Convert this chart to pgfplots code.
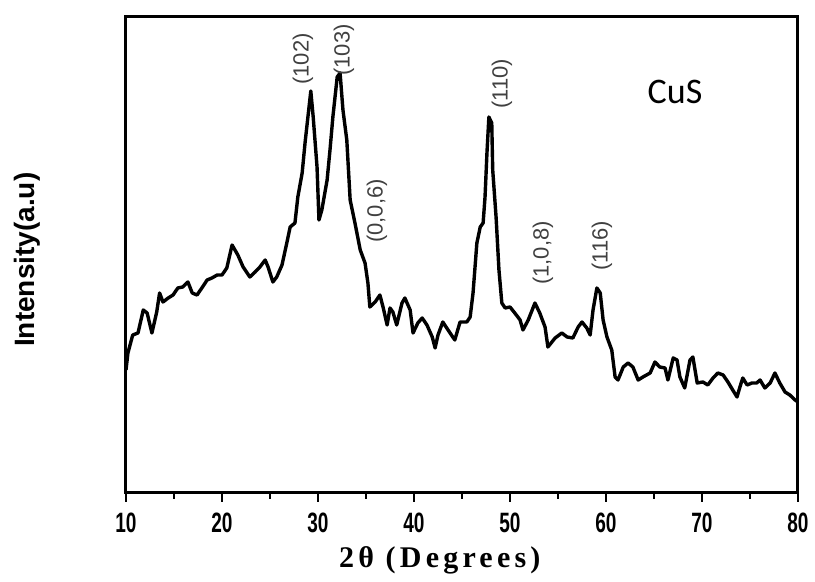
\documentclass[border=0pt]{standalone}
\usepackage{fontspec}
\setmainfont{Liberation Sans}
\newfontfamily\tickfont[FakeStretch=0.68]{Liberation Sans}
\newfontfamily\xlabfont[LetterSpace=14]{Liberation Serif}
\newfontfamily\cusfont{Carlito}
\usepackage{pgfplots}
\pgfplotsset{compat=1.18}

% XRD pattern of CuS (y in arbitrary units)
\pgfplotstableread{
x y
10.0 123
10.2 140
10.7 158
11.25 160
11.8 183
12.2 180
12.7 160
13.2 181
13.5 200
13.85 191
14.4 195
14.9 198
15.4 205
15.9 206
16.45 211
16.9 200
17.4 198
17.9 205
18.45 213
18.95 215
19.5 218
20.0 218
20.5 225
21.05 248
21.35 243
21.65 238
22.2 226
22.9 216
23.45 221
23.95 226
24.5 233
24.8 226
25.3 211
25.7 216
26.25 228
26.75 250
27.1 266
27.6 270
27.9 296
28.35 320
28.65 350
28.95 376
29.25 402
29.5 376
29.9 326
30.1 273
30.4 283
30.95 313
31.25 343
31.55 376
32.0 416
32.3 420
32.6 383
33.0 353
33.35 293
33.85 270
34.4 243
34.9 230
35.2 210
35.4 186
35.95 191
36.45 198
36.8 185
37.2 168
37.5 185
37.8 181
38.2 168
38.75 190
39.05 195
39.6 183
39.9 160
40.4 170
40.85 175
41.35 168
41.9 156
42.2 145
42.5 158
43.0 171
43.55 163
44.25 153
44.8 171
45.5 171
45.85 176
46.15 200
46.55 250
46.9 266
47.2 270
47.4 296
47.6 340
47.8 376
48.1 370
48.2 323
48.55 276
48.85 223
49.15 190
49.5 185
50.0 186
50.5 180
51.05 173
51.35 163
51.9 173
52.6 190
53.1 180
53.65 166
53.95 146
54.7 155
55.4 160
55.95 156
56.55 155
57.1 166
57.5 171
58.0 165
58.35 158
58.65 183
59.05 205
59.4 200
59.7 173
60.1 156
60.6 143
60.95 116
61.25 113
61.8 126
62.3 130
62.8 126
63.35 113
63.85 116
64.6 120
65.1 131
65.6 126
66.15 125
66.45 113
67.0 135
67.4 133
67.7 116
68.2 105
68.75 133
69.05 136
69.5 110
70.1 111
70.6 108
71.15 115
71.65 120
72.2 118
72.7 111
73.2 103
73.65 96
73.95 106
74.25 115
74.7 108
75.2 110
75.7 110
76.05 113
76.55 105
77.1 110
77.6 120
78.1 110
78.65 101
79.15 98
79.7 93
80.0 91
}\cusdata

\begin{document}
\begin{tikzpicture}
\useasboundingbox (-63pt,-44.5pt) rectangle (344.5pt,246.5pt);
\begin{axis}[
  scale only axis, width=336pt, height=238pt,
  xmin=10, xmax=80, ymin=0, ymax=476,
  xtick={10,20,...,80}, minor x tick num=1,
  ytick=\empty,
  xtick pos=bottom, tick align=outside,
  major tick length=4.5pt, minor tick length=3pt,
  every tick/.style={line width=1.4pt, black},
  axis line style={line width=1.5pt},
  /pgf/number format/assume math mode=true,
  xticklabel style={font=\tickfont\bfseries\fontsize{14}{16}\selectfont, yshift=-2pt},
  xlabel={\xlabfont\bfseries 2θ (Degrees)},
  ylabel={\bfseries Intensity(a.u)},
  xlabel style={font=\fontsize{15}{17}\selectfont, at={(axis description cs:0.467,-0.142)}, anchor=center},
  ylabel style={font=\fontsize{14}{16}\selectfont, at={(axis description cs:-0.147,0.49)}, anchor=center},
]
\addplot[black, line width=1.7pt, line join=round] table[x=x, y=y] {\cusdata};
\begin{scope}[every node/.style={rotate=90, font=\fontsize{11}{13}\selectfont, text=black!75, inner sep=0pt}]
\node at (axis cs:28.44,434) {(102)};
\node at (axis cs:32.7,443) {(103)};
\node at (axis cs:36.15,282) {(0,0,6)};
\node at (axis cs:49.17,409) {(110)};
\node at (axis cs:53.44,240) {(1,0,8)};
\node at (axis cs:59.58,247) {(116)};
\end{scope}
\node[font=\cusfont\fontsize{18}{20}\selectfont, inner sep=0pt] at (axis cs:67.19,401) {CuS};
\end{axis}
\end{tikzpicture}
\end{document}
